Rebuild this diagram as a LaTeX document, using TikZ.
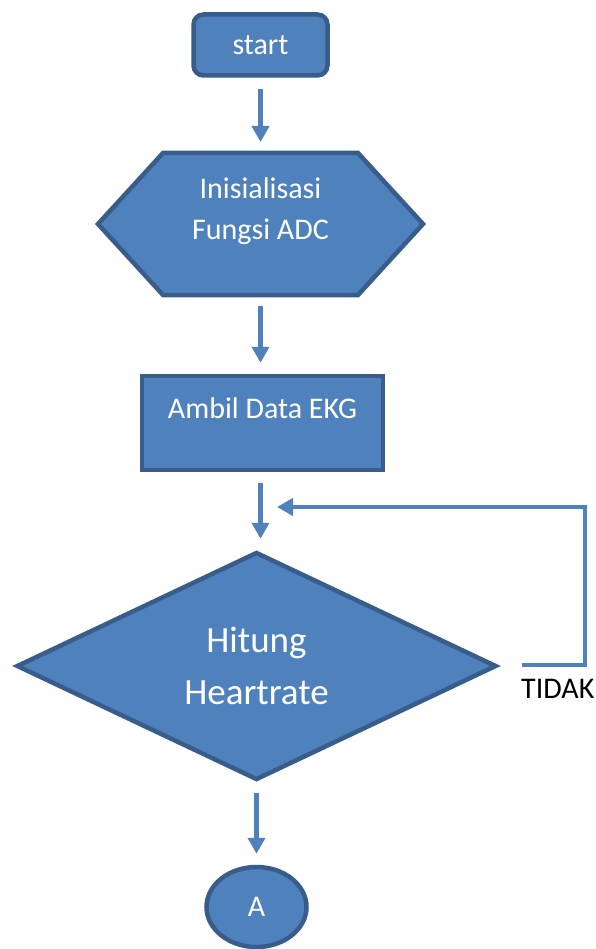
\documentclass[tikz,border=0pt]{standalone}
\usepackage{fontspec}
\setmainfont{Carlito}
\usetikzlibrary{shapes.geometric,arrows.meta,calc}
\definecolor{officeblue}{HTML}{4F81BD}
\definecolor{officeedge}{HTML}{385D8A}
\begin{document}
\begin{tikzpicture}[x=1pt,y=-1pt,
  block/.style={draw=officeedge, fill=officeblue, line width=4.5pt, text=white, font=\fontsize{30}{41}\selectfont, inner sep=0pt},
  txt/.style={text=white, font=\fontsize{30}{41}\selectfont, align=center, inner sep=0pt},
  flow/.style={draw=officeblue, line width=4.5pt, -{Triangle[width=17pt,length=16pt]}, shorten <=11pt, shorten >=11pt},
  loopline/.style={draw=officeblue, line width=4.5pt, -{Triangle[width=17pt,length=16pt]}}]
\useasboundingbox (0,0) rectangle (595,949);
\node[block, rounded corners=10pt, minimum width=134pt, minimum height=61pt] (start) at (260.5,45) {start};
\node[inner sep=0pt, outer sep=0pt, minimum width=195pt, minimum height=142pt] (init) at (260.5,224) {};
\draw[block] (init.north west) -- (init.north east) -- ($(init.east)+(65,0)$) -- (init.south east) -- (init.south west) -- ($(init.west)+(-65,0)$) -- cycle;
\node[txt] (inittext) at (260.5,211) {Inisialisasi\\Fungsi ADC};
\node[block, minimum width=241pt, minimum height=94pt] (ambil) at (262.5,423) {};
\node[txt] (ambiltext) at (262.5,408) {Ambil Data EKG};
\node[block, diamond, minimum width=480pt, minimum height=228pt, font=\fontsize{37}{52}\selectfont, align=center] (hitung) at (256.5,666) {Hitung\\Heartrate};
\node[block, ellipse, minimum width=100pt, minimum height=80pt] (konektor) at (256.5,907) {A};
\node[anchor=west, inner sep=0pt, font=\fontsize{30}{36}\selectfont] (tidak) at (521,689) {TIDAK};
\coordinate (balik) at (522,665);
\coordinate (masuk) at (277,507);

\draw[flow] (start.south) -- (init.north);
\draw[flow] (init.south) -- (init.south |- ambil.north);
\draw[flow] (ambil.south -| start.south) -- (hitung.north -| start.south);
\draw[flow] (hitung.south) -- (konektor.north);
\draw[loopline] (balik) -- (585,665) |- (masuk);

\end{tikzpicture}
\end{document}
